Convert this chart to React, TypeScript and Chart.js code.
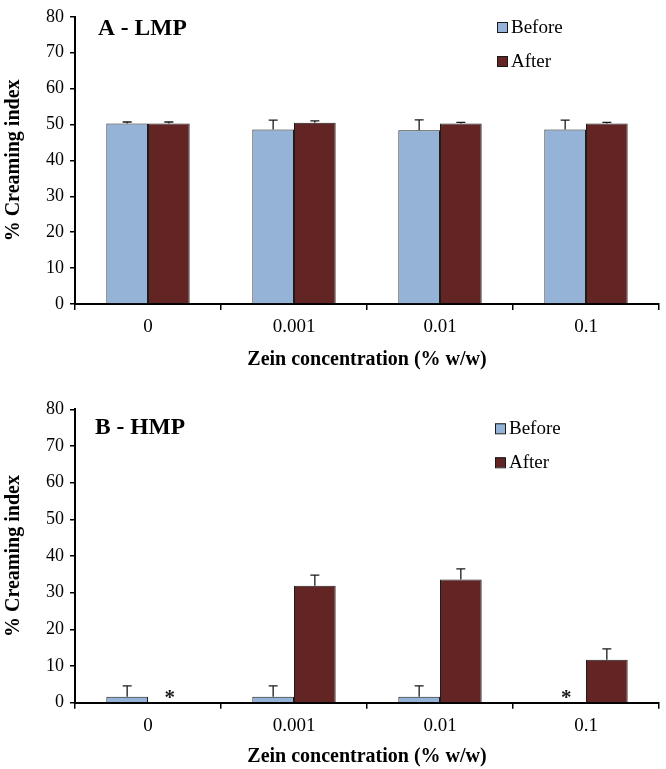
import React, { useEffect, useRef } from "react";
import { Chart, registerables } from "chart.js";

Chart.register(...registerables);

const categories = ["0", "0.001", "0.01", "0.1"];
const seriesNames = ["Before", "After"];
const seriesColors = ["#95B3D7", "#632523"];

const lmpBefore = [50.3, 48.6, 48.4, 48.6];
const lmpBeforeErr = [0.4, 2.6, 2.9, 2.6];
const lmpAfter = [50.3, 50.5, 50.3, 50.3];
const lmpAfterErr = [0.4, 0.5, 0.3, 0.3];

const hmpBefore = [1.6, 1.6, 1.6, 0];
const hmpBeforeErr = [3.0, 3.0, 3.0, 0];
const hmpAfter = [0, 31.9, 33.6, 11.7];
const hmpAfterErr = [0, 2.9, 2.9, 3.0];
const hmpBeforeStar = [false, false, false, true];
const hmpAfterStar = [true, false, false, false];
const noStar = [false, false, false, false];

const yMin = 0;
const yMax = 80;
const yStep = 10;

const FONT = "'Liberation Serif', 'Times New Roman', serif";

const overlayPlugin = {
  id: "overlay",
  afterDatasetsDraw(chart: any, _args: any, opts: any) {
    const ctx = chart.ctx;
    const y = chart.scales.y;
    ctx.save();
    chart.data.datasets.forEach((ds: any, di: number) => {
      const meta = chart.getDatasetMeta(di);
      meta.data.forEach((el: any, i: number) => {
        const v = ds.data[i];
        const e = ds.errors ? ds.errors[i] : 0;
        if (e > 0) {
          const yBar = y.getPixelForValue(v);
          const yTop = y.getPixelForValue(v + e);
          ctx.strokeStyle = "#1a1a1a";
          ctx.lineWidth = 1.3;
          ctx.beginPath();
          ctx.moveTo(el.x, yBar);
          ctx.lineTo(el.x, yTop);
          ctx.moveTo(el.x - 4.5, yTop);
          ctx.lineTo(el.x + 4.5, yTop);
          ctx.stroke();
        }
        if (ds.stars && ds.stars[i]) {
          ctx.fillStyle = "#1a1a1a";
          ctx.font = `bold 21px ${FONT}`;
          ctx.textAlign = "center";
          ctx.textBaseline = "alphabetic";
          ctx.fillText("*", el.x + 1, y.getPixelForValue(0) + 1);
        }
      });
    });

    // panel label
    ctx.fillStyle = "#000";
    ctx.font = `bold 23.5px ${FONT}`;
    ctx.textAlign = "left";
    ctx.textBaseline = "middle";
    ctx.fillText(opts.label, opts.labelX, opts.labelY);

    // legend
    ctx.font = `19px ${FONT}`;
    chart.data.datasets.forEach((ds: any, di: number) => {
      const cy = opts.legendY + di * opts.legendGap;
      ctx.fillStyle = ds.backgroundColor;
      ctx.fillRect(opts.legendX, cy - 5, 10, 10);
      ctx.strokeStyle = "#1a1a1a";
      ctx.lineWidth = 1;
      ctx.strokeRect(opts.legendX + 0.5, cy - 4.5, 10, 10);
      ctx.fillStyle = "#000";
      ctx.textAlign = "left";
      ctx.textBaseline = "middle";
      ctx.fillText(ds.label, opts.legendX + 14, cy + 1);
    });
    ctx.restore();
  },
};

type PanelProps = {
  width: number;
  height: number;
  before: number[];
  beforeErr: number[];
  after: number[];
  afterErr: number[];
  beforeStar: boolean[];
  afterStar: boolean[];
  padTop: number;
  xAxisH: number;
  xTitlePad: number;
  label: string;
  labelX: number;
  labelY: number;
  legendX: number;
  legendY: number;
};

function Panel(p: PanelProps) {
  const ref = useRef<HTMLCanvasElement | null>(null);
  useEffect(() => {
    if (!ref.current) return;
    const chart = new Chart(ref.current, {
      type: "bar",
      data: {
        labels: categories,
        datasets: [
          {
            label: seriesNames[0],
            data: p.before,
            errors: p.beforeErr,
            stars: p.beforeStar,
            backgroundColor: seriesColors[0],
            borderColor: "#1c1c1c",
            borderWidth: 1,
            categoryPercentage: 0.571,
            barPercentage: 1.0,
          } as any,
          {
            label: seriesNames[1],
            data: p.after,
            errors: p.afterErr,
            stars: p.afterStar,
            backgroundColor: seriesColors[1],
            borderColor: "#1c1c1c",
            borderWidth: 1,
            categoryPercentage: 0.571,
            barPercentage: 1.0,
          } as any,
        ],
      },
      options: {
        responsive: false,
        animation: false,
        devicePixelRatio: 1,
        layout: { padding: { top: p.padTop, right: 7, left: 0, bottom: 0 } },
        plugins: {
          legend: { display: false },
          tooltip: { enabled: false },
          overlay: {
            label: p.label,
            labelX: p.labelX,
            labelY: p.labelY,
            legendX: p.legendX,
            legendY: p.legendY,
            legendGap: 34,
          },
        } as any,
        scales: {
          x: {
            grid: {
              display: true,
              drawOnChartArea: false,
              drawTicks: true,
              tickLength: 6,
              color: "#000",
              lineWidth: 1.5,
            },
            border: { display: true, color: "#000", width: 2 },
            ticks: {
              color: "#000",
              font: { family: FONT, size: 19 },
              padding: 6,
            },
            title: {
              display: true,
              text: "Zein concentration (% w/w)",
              color: "#000",
              font: { family: FONT, size: 20, weight: "bold" },
              padding: { top: 0, bottom: p.xTitlePad },
            },
            afterFit: (s: any) => {
              s.height = p.xAxisH;
            },
          },
          y: {
            min: yMin,
            max: yMax,
            ticks: {
              stepSize: yStep,
              color: "#000",
              font: { family: FONT, size: 18 },
              padding: 6,
            },
            grid: {
              display: true,
              drawOnChartArea: false,
              drawTicks: true,
              tickLength: 5,
              color: "#000",
              lineWidth: 1.5,
            },
            border: { display: true, color: "#000", width: 2 },
            title: {
              display: true,
              text: "% Creaming index",
              color: "#000",
              font: { family: FONT, size: 20, weight: "bold" },
              padding: { top: 1.5, bottom: 0 },
            },
            afterFit: (s: any) => {
              s.width = 75;
            },
          },
        },
      } as any,
      plugins: [overlayPlugin as any],
    });
    return () => chart.destroy();
  }, []);
  return (
    <canvas
      ref={ref}
      width={p.width}
      height={p.height}
      style={{ display: "block", width: p.width, height: p.height }}
    />
  );
}

export default function App() {
  return (
    <div
      style={{
        position: "absolute",
        left: 0,
        top: 0,
        width: 666,
        height: 769,
        background: "#fff",
      }}
    >
      <Panel
        width={666}
        height={390}
        before={lmpBefore}
        beforeErr={lmpBeforeErr}
        after={lmpAfter}
        afterErr={lmpAfterErr}
        beforeStar={noStar}
        afterStar={noStar}
        padTop={11}
        xAxisH={86}
        xTitlePad={18}
        label="A - LMP"
        labelX={98}
        labelY={29}
        legendX={497}
        legendY={27}
      />
      <Panel
        width={666}
        height={379}
        before={hmpBefore}
        beforeErr={hmpBeforeErr}
        after={hmpAfter}
        afterErr={hmpAfterErr}
        beforeStar={hmpBeforeStar}
        afterStar={hmpAfterStar}
        padTop={19.4}
        xAxisH={66.3}
        xTitlePad={0}
        label="B - HMP"
        labelX={95}
        labelY={38}
        legendX={495}
        legendY={38.3}
      />
    </div>
  );
}
